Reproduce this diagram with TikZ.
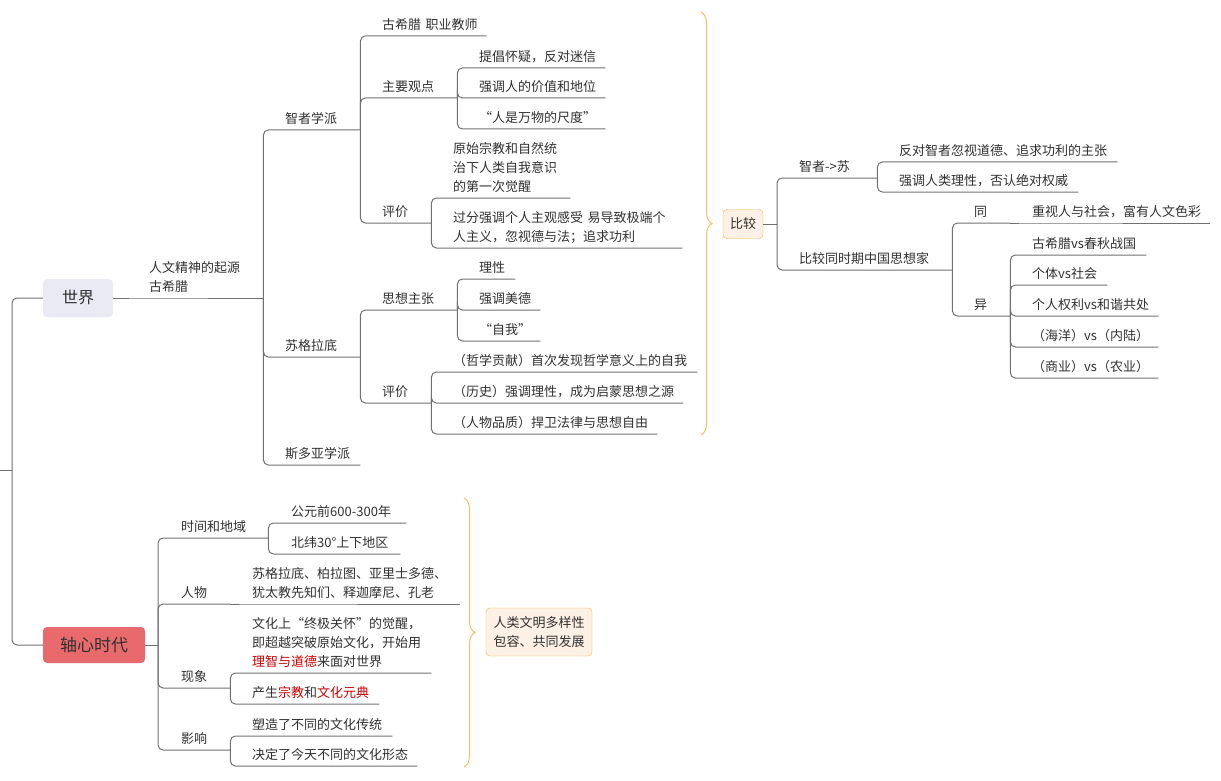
\documentclass[tikz,border=0pt]{standalone}
\usepackage{fontspec}
\setmainfont{Noto Sans CJK SC}
\usetikzlibrary{decorations.pathreplacing}
\definecolor{ink}{RGB}{48,48,48}
\definecolor{wire}{RGB}{112,112,112}
\definecolor{hot}{RGB}{204,0,0}
\definecolor{lav}{RGB}{233,234,243}
\definecolor{rose}{RGB}{233,106,109}
\definecolor{sand}{RGB}{253,240,228}
\definecolor{amber}{RGB}{245,177,66}
\definecolor{bracecol}{RGB}{247,192,95}

\begin{document}
\begin{tikzpicture}
		[x=1pt, y=-1pt,
		topic/.style={anchor=south west, inner xsep=0pt, inner ysep=4pt, align=left, text=ink,
			font=\fontsize{13}{19}\selectfont, execute at end node={\rule[-2pt]{0pt}{2pt}}},
		box/.style={rounded corners=4pt, inner sep=0pt, align=center, text=ink, font=\fontsize{13}{19}\selectfont},
		link/.style={draw=wire, line width=1pt, rounded corners=5pt},
		brc/.style={draw=bracecol, line width=1pt, decorate, decoration={brace, amplitude=11pt}}]
		\useasboundingbox (0,0) rectangle (1221,781);
		\coordinate (r) at (0,470);
		\coordinate (rj) at (12,470);

		\path
		(78,298) node[box, fill=lav, minimum width=70pt, minimum height=38pt, font=\fontsize{16}{19}\selectfont](w) {世界}
		(94,645) node[box, fill=rose, minimum width=102pt, minimum height=36pt, font=\fontsize{17}{19}\selectfont](x) {轴心时代}
		(743,224) node[box, fill=sand, draw=amber, minimum width=40pt, minimum height=29pt](c) {比较}
		(539,632) node[box, fill=sand, draw=amber, minimum width=106pt, minimum height=48pt](m) {人类文明多样性\\包容、共同发展};
		\coordinate (cj) at (777,224);
		\coordinate (xj) at (158,645);

		\node[topic, text width=114pt] (a) at (149,298) {人文精神的起源\\古希腊};
		\node[topic, text width=75pt] (a1) at (285,130) {智者学派};
		\node[topic, text width=75pt] (a2) at (285,357) {苏格拉底};
		\node[topic, text width=75pt] (a3) at (285,465) {斯多亚学派};
		\node[topic, text width=104pt] (a11) at (382,36) {古希腊 职业教师};
		\node[topic, text width=75pt] (a12) at (382,98) {主要观点};
		\node[topic, text width=49pt] (a13) at (382,223) {评价};
		\node[topic, text width=126pt] (a121) at (479,68) {提倡怀疑，反对迷信};
		\node[topic, text width=126pt] (a122) at (479,98) {强调人的价值和地位};
		\node[topic, text width=126pt] (a123) at (479,129) {“人是万物的尺度”};
		\node[topic, text width=117pt] (a131) at (453,198) {原始宗教和自然统\\治下人类自我意识\\的第一次觉醒};
		\node[topic, text width=229pt] (a132) at (453,248) {过分强调个人主观感受 易导致极端个\\人主义，忽视德与法；追求功利};
		\node[topic, text width=75pt] (a21) at (382,310) {思想主张};
		\node[topic, text width=49pt] (a22) at (382,403) {评价};
		\node[topic, text width=36pt] (a211) at (479,279) {理性};
		\node[topic, text width=61pt] (a212) at (479,310) {强调美德};
		\node[topic, text width=61pt] (a213) at (479,341) {“自我”};
		\node[topic, text width=244pt] (a221) at (453,372) {（哲学贡献）首次发现哲学意义上的自我};
		\node[topic, text width=230pt] (a222) at (453,403) {（历史）强调理性，成为启蒙思想之源};
		\node[topic, text width=204pt] (a223) at (453,434) {（人物品质）捍卫法律与思想自由};

		\node[topic, text width=78pt] (c1) at (799,178) {智者->苏};
		\node[topic, text width=153pt] (c2) at (799,270) {比较同时期中国思想家};
		\node[topic, text width=218pt] (c11) at (899,162) {反对智者忽视道德、追求功利的主张};
		\node[topic, text width=179pt] (c12) at (899,192) {强调人类理性，否认绝对权威};
		\node[topic, text width=36pt] (c21) at (974,223) {同};
		\node[topic, text width=36pt] (c22) at (974,316) {异};
		\node[topic, text width=178pt] (c211) at (1032,223) {重视人与社会，富有人文色彩};
		\node[topic, text width=114pt] (c221) at (1032,255) {古希腊vs春秋战国};
		\node[topic, text width=75pt] (c222) at (1032,285) {个体vs社会};
		\node[topic, text width=126pt] (c223) at (1032,316) {个人权利vs和谐共处};
		\node[topic, text width=126pt] (c224) at (1032,347) {（海洋）vs（内陆）};
		\node[topic, text width=126pt] (c225) at (1032,378) {（商业）vs（农业）};

		\node[topic, text width=87pt] (x1) at (181,538) {时间和地域};
		\node[topic, text width=49pt] (x2) at (181,604) {人物};
		\node[topic, text width=49pt] (x3) at (181,688) {现象};
		\node[topic, text width=49pt] (x4) at (181,750) {影响};
		\node[topic, text width=115pt] (x11) at (291,523) {公元前600-300年};
		\node[topic, text width=109pt] (x12) at (291,554) {北纬30°上下地区};
		\node[topic, text width=208pt] (x21) at (252,604) {苏格拉底、柏拉图、亚里士多德、\\犹太教先知们、释迦摩尼、孔老};
		\node[topic, text width=179pt] (x31) at (252,673) {文化上“终极关怀”的觉醒，\\即超越突破原始文化，开始用\\{\color{hot}理智与道德}来面对世界};
		\node[topic, text width=127pt] (x32) at (252,704) {产生{\color{hot}宗教}和{\color{hot}文化元典}};
		\node[topic, text width=140pt] (x41) at (252,736) {塑造了不同的文化传统};
		\node[topic, text width=165pt] (x42) at (252,766) {决定了今天不同的文化形态};

		\draw[link] (r) -- (rj);
		\draw[link] (rj) |- (w.west);
		\draw[link] (rj) |- (x.west);
		\draw[link] (w.east) -- (a.south west) -- (a.south east);
		\draw[link] (a.south east) |- (a1.south west) -- (a1.south east);
		\draw[link] (a.south east) |- (a2.south west) -- (a2.south east);
		\draw[link] (a.south east) |- (a3.south west) -- (a3.south east);
		\draw[link] (a1.south east) |- (a11.south west) -- (a11.south east);
		\draw[link] (a1.south east) |- (a12.south west) -- (a12.south east);
		\draw[link] (a1.south east) |- (a13.south west) -- (a13.south east);
		\draw[link] (a12.south east) |- (a121.south west) -- (a121.south east);
		\draw[link] (a12.south east) |- (a122.south west) -- (a122.south east);
		\draw[link] (a12.south east) |- (a123.south west) -- (a123.south east);
		\draw[link] (a13.south east) |- (a131.south west) -- (a131.south east);
		\draw[link] (a13.south east) |- (a132.south west) -- (a132.south east);
		\draw[link] (a2.south east) |- (a21.south west) -- (a21.south east);
		\draw[link] (a2.south east) |- (a22.south west) -- (a22.south east);
		\draw[link] (a21.south east) |- (a211.south west) -- (a211.south east);
		\draw[link] (a21.south east) |- (a212.south west) -- (a212.south east);
		\draw[link] (a21.south east) |- (a213.south west) -- (a213.south east);
		\draw[link] (a22.south east) |- (a221.south west) -- (a221.south east);
		\draw[link] (a22.south east) |- (a222.south west) -- (a222.south east);
		\draw[link] (a22.south east) |- (a223.south west) -- (a223.south east);

		\draw[link] (c.east) -- (cj);
		\draw[link] (cj) |- (c1.south west) -- (c1.south east);
		\draw[link] (cj) |- (c2.south west) -- (c2.south east);
		\draw[link] (c1.south east) |- (c11.south west) -- (c11.south east);
		\draw[link] (c1.south east) |- (c12.south west) -- (c12.south east);
		\draw[link] (c2.south east) |- (c21.south west) -- (c21.south east);
		\draw[link] (c2.south east) |- (c22.south west) -- (c22.south east);
		\draw[link] (c21.south east) -- (c211.south west) -- (c211.south east);
		\draw[link] (c22.south east) |- (c221.south west) -- (c221.south east);
		\draw[link] (c22.south east) |- (c222.south west) -- (c222.south east);
		\draw[link] (c22.south east) |- (c223.south west) -- (c223.south east);
		\draw[link] (c22.south east) |- (c224.south west) -- (c224.south east);
		\draw[link] (c22.south east) |- (c225.south west) -- (c225.south east);

		\draw[link] (x.east) -- (xj);
		\draw[link] (xj) |- (x1.south west) -- (x1.south east);
		\draw[link] (xj) |- (x2.south west) -- (x2.south east);
		\draw[link] (xj) |- (x3.south west) -- (x3.south east);
		\draw[link] (xj) |- (x4.south west) -- (x4.south east);
		\draw[link] (x1.south east) |- (x11.south west) -- (x11.south east);
		\draw[link] (x1.south east) |- (x12.south west) -- (x12.south east);
		\draw[link] (x2.south east) -- (x21.south west) -- (x21.south east);
		\draw[link] (x3.south east) |- (x31.south west) -- (x31.south east);
		\draw[link] (x3.south east) |- (x32.south west) -- (x32.south east);
		\draw[link] (x4.south east) |- (x41.south west) -- (x41.south east);
		\draw[link] (x4.south east) |- (x42.south west) -- (x42.south east);

		\draw[brc] (701,12) -- (701,435);
		\draw[brc] (464,498) -- (464,767);
	\end{tikzpicture}
\end{document}
